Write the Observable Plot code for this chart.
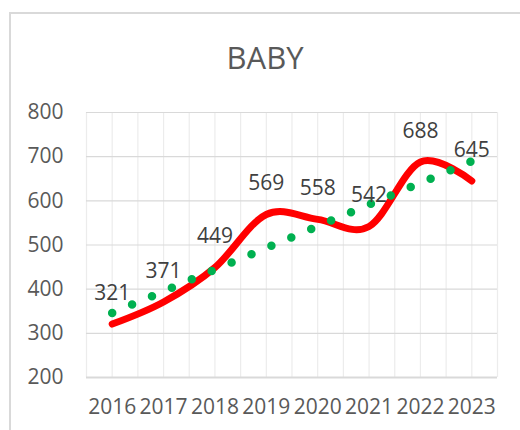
<!DOCTYPE html>
<html>
<head>
<meta charset="utf-8">
<script src="https://cdn.jsdelivr.net/npm/d3@7"></script>
<script src="https://cdn.jsdelivr.net/npm/@observablehq/plot@0.6"></script>
<style>
  html, body { margin: 0; padding: 0; background: #fff; }
  #wrap { position: relative; width: 520px; height: 430px; overflow: hidden; }
  #frame { position: absolute; left: 9px; top: 12px; width: 600px; height: 500px; border: 2px solid #d9d9d9; box-sizing: border-box; }
  #title { position: absolute; left: 0; top: 42px; width: 530px; text-align: center; font-family: "Open Sans", sans-serif; font-size: 31px; line-height: 1; color: #595959; }
  #chart { position: absolute; left: 0; top: 0; }
</style>
</head>
<body>
<div id="wrap">
  <div id="frame"></div>
  <div id="title">BABY</div>
  <div id="chart"></div>
</div>
<script>
const title = "BABY";
const years = [2016, 2017, 2018, 2019, 2020, 2021, 2022, 2023];
const values = [321, 371, 449, 569, 558, 542, 688, 645];
const yTicks = [200, 300, 400, 500, 600, 700, 800];

const data = years.map((year, i) => ({year, value: values[i]}));
const xDomain = [years[0] - 0.5, years[years.length - 1] + 0.5];
const xGrid = d3.range(xDomain[0], xDomain[1] + 0.01, 0.5);

document.getElementById("title").textContent = title;

const chart = Plot.plot({
  width: 520,
  height: 430,
  marginLeft: 86,
  marginRight: 23,
  marginTop: 112,
  marginBottom: 53,
  style: {fontFamily: "Open Sans, sans-serif", fontSize: "21px", color: "#595959", background: "transparent"},
  x: {domain: xDomain, ticks: years, tickFormat: d => String(d), label: null},
  y: {domain: [yTicks[0], yTicks[yTicks.length - 1]], ticks: yTicks, label: null},
  marks: [
    Plot.ruleX(xGrid, {stroke: "#ececec", strokeWidth: 1.2}),
    Plot.ruleY(yTicks.slice(1), {stroke: "#d9d9d9", strokeWidth: 1.2}),
    Plot.ruleY([yTicks[0]], {stroke: "#d9d9d9", strokeWidth: 2}),
    Plot.axisX({ticks: years, tickSize: 0, tickPadding: 22, tickFormat: d => String(d), fill: "#595959", fontSize: 21}),
    Plot.axisY({ticks: yTicks, tickSize: 0, tickPadding: 23, fill: "#595959", fontSize: 21}),
    Plot.line(data, {x: "year", y: "value", stroke: "#ff0000", strokeWidth: 7, curve: "cardinal", strokeLinecap: "round", strokeLinejoin: "round"}),
    Plot.linearRegressionY(data, {x: "year", y: "value", stroke: "#00b050", strokeWidth: 8.5, strokeDasharray: "0 21.6", strokeLinecap: "round", ci: 0}),
    Plot.text(data, {x: "year", y: "value", text: d => String(d.value), dy: -31, fill: "#404040", fontSize: 21})
  ]
});
document.getElementById("chart").appendChild(chart);
</script>
</body>
</html>
